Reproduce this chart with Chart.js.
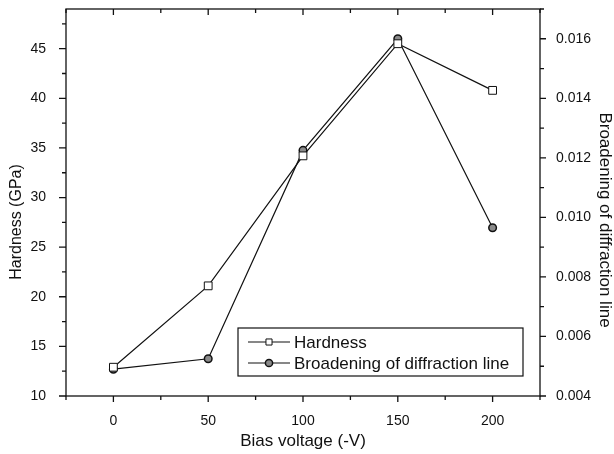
<!DOCTYPE html>
<html>
<head>
<meta charset="utf-8">
<script src="https://cdn.jsdelivr.net/npm/chart.js@4.4.1/dist/chart.umd.min.js"></script>
<style>
    html, body { margin: 0; padding: 0; background: #fff; }
    canvas { display: block; }
</style>
</head>
<body>
<canvas id="bias-chart" width="614" height="454"></canvas>
<script>
(function () {
    'use strict';

    // values
    var biasVoltage = [0, 50, 100, 150, 200];
    var hardness = [12.9, 21.1, 34.2, 45.5, 40.8];
    var broadening = [0.0049, 0.00525, 0.01225, 0.0160, 0.00965];

    var xTicks = [0, 50, 100, 150, 200];
    var hardnessTicks = [10, 15, 20, 25, 30, 35, 40, 45];
    var broadeningTicks = [0.004, 0.006, 0.008, 0.010, 0.012, 0.014, 0.016];

    var FONT = '"Liberation Sans", Arial, sans-serif',
        INK = '#111',

        toPoints = function (xs, ys) {
            return xs.map(function (x, i) {
                return { x: x, y: ys[i] };
            });
        },

        useTicks = function (values) {
            return function (scale) {
                scale.ticks = values.map(function (v) {
                    return { value: v };
                });
            };
        },

        // fixed axis box; drop the label half-height padding chart.js adds
        fixWidth = function (width) {
            return function (scale) {
                scale.width = width;
                scale.paddingTop = 0;
                scale.paddingBottom = 0;
            };
        },

        minorValues = function (ticks, min, max) {
            var half = (ticks[1] - ticks[0]) / 2,
                out = [],
                v;

            for (v = ticks[0] - half * 4; v <= max + 1e-9; v += half) {
                if (v < min - 1e-9) {
                    continue;
                }
                if (ticks.some(function (t) { return Math.abs(t - v) < half / 10; })) {
                    continue;
                }
                out.push(v);
            }
            return out;
        },

        // ticks + frame, like the origin-style box
        framePlugin = {
            id: 'frame',
            afterDatasetsDraw: function (chart) {
                var ctx = chart.ctx,
                    area = chart.chartArea,
                    x = chart.scales.x,
                    y = chart.scales.y,
                    y1 = chart.scales.y1,
                    tick = function (x0, y0, x1, y2) {
                        ctx.moveTo(x0, y0);
                        ctx.lineTo(x1, y2);
                    };

                ctx.save();
                ctx.strokeStyle = INK;
                ctx.lineWidth = 1.3;
                ctx.strokeRect(area.left, area.top, area.right - area.left, area.bottom - area.top);

                ctx.beginPath();
                xTicks.forEach(function (v) {
                    var px = x.getPixelForValue(v);
                    tick(px, area.bottom, px, area.bottom + 6);
                    tick(px, area.top, px, area.top + 6);
                });
                minorValues(xTicks, x.min, x.max).forEach(function (v) {
                    var px = x.getPixelForValue(v);
                    tick(px, area.bottom, px, area.bottom + 4);
                    tick(px, area.top, px, area.top + 4);
                });
                hardnessTicks.forEach(function (v) {
                    var py = y.getPixelForValue(v);
                    tick(area.left, py, area.left - 7, py);
                });
                minorValues(hardnessTicks, y.min, y.max).forEach(function (v) {
                    var py = y.getPixelForValue(v);
                    tick(area.left, py, area.left - 4, py);
                });
                broadeningTicks.forEach(function (v) {
                    var py = y1.getPixelForValue(v);
                    tick(area.right, py, area.right + 6, py);
                });
                minorValues(broadeningTicks, y1.min, y1.max).forEach(function (v) {
                    var py = y1.getPixelForValue(v);
                    tick(area.right, py, area.right + 4, py);
                });
                ctx.stroke();

                // rotated axis titles sit a little below centre in the original
                ctx.fillStyle = INK;
                ctx.textAlign = 'center';
                ctx.textBaseline = 'middle';
                ctx.font = '16px ' + FONT;
                ctx.save();
                ctx.translate(17, 222);
                ctx.rotate(-Math.PI / 2);
                ctx.fillText('Hardness (GPa)', 0, 0);
                ctx.restore();

                ctx.font = '17px ' + FONT;
                ctx.save();
                ctx.translate(605, 220);
                ctx.rotate(Math.PI / 2);
                ctx.fillText('Broadening of diffraction line', 0, 0);
                ctx.restore();

                ctx.restore();
            }
        },

        legendPlugin = {
            id: 'boxLegend',
            afterDraw: function (chart) {
                var ctx = chart.ctx,
                    box = { left: 238, top: 328, right: 523, bottom: 376 },
                    rows = [342, 363],
                    sizes = [4.3, 3.6];

                ctx.save();
                ctx.fillStyle = '#fff';
                ctx.fillRect(box.left, box.top, box.right - box.left, box.bottom - box.top);
                ctx.strokeStyle = INK;
                ctx.lineWidth = 1.2;
                ctx.strokeRect(box.left, box.top, box.right - box.left, box.bottom - box.top);

                chart.data.datasets.forEach(function (dataset, i) {
                    var yRow = rows[i];

                    ctx.strokeStyle = INK;
                    ctx.lineWidth = 1.2;
                    ctx.beginPath();
                    ctx.moveTo(248, yRow);
                    ctx.lineTo(290, yRow);
                    ctx.stroke();

                    ctx.fillStyle = dataset.pointBackgroundColor;
                    ctx.strokeStyle = dataset.pointBorderColor;
                    ctx.lineWidth = dataset.pointBorderWidth;
                    Chart.helpers.drawPoint(ctx, {
                        pointStyle: dataset.pointStyle,
                        radius: sizes[i],
                        rotation: 0,
                        borderWidth: dataset.pointBorderWidth
                    }, 269, yRow);

                    ctx.fillStyle = INK;
                    ctx.font = '17px ' + FONT;
                    ctx.textAlign = 'left';
                    ctx.textBaseline = 'middle';
                    ctx.fillText(dataset.label, 294, yRow + 1);
                });
                ctx.restore();
            }
        },

        tickFont = { family: FONT, size: 14 },

        getConfig = function () {
            return {
                type: 'line',
                data: {
                    datasets: [{
                        label: 'Hardness',
                        data: toPoints(biasVoltage, hardness),
                        yAxisID: 'y',
                        borderColor: INK,
                        borderWidth: 1.2,
                        pointStyle: 'rect',
                        pointRadius: 5.5,
                        pointBackgroundColor: '#fff',
                        pointBorderColor: INK,
                        pointBorderWidth: 1,
                        tension: 0,
                        fill: false
                    }, {
                        label: 'Broadening of diffraction line',
                        data: toPoints(biasVoltage, broadening),
                        yAxisID: 'y1',
                        borderColor: INK,
                        borderWidth: 1.2,
                        pointStyle: 'circle',
                        pointRadius: 3.8,
                        pointBackgroundColor: '#8a8a8a',
                        pointBorderColor: INK,
                        pointBorderWidth: 1.5,
                        tension: 0,
                        fill: false
                    }]
                },
                options: {
                    responsive: false,
                    devicePixelRatio: 1,
                    animation: false,
                    layout: { padding: { top: 9, left: 0, right: 0, bottom: 0 } },
                    plugins: {
                        legend: { display: false },
                        tooltip: { enabled: false }
                    },
                    scales: {
                        x: {
                            type: 'linear',
                            position: 'bottom',
                            min: -25,
                            max: 225,
                            afterBuildTicks: useTicks(xTicks),
                            afterFit: function (scale) {
                                scale.height = 58;
                                scale.paddingLeft = 0;
                                scale.paddingRight = 0;
                            },
                            grid: { display: false },
                            border: { display: false },
                            ticks: { font: tickFont, color: INK, padding: 9, maxRotation: 0 },
                            title: {
                                display: true,
                                text: 'Bias voltage (-V)',
                                color: INK,
                                font: { family: FONT, size: 17 },
                                padding: { top: 0, bottom: 2 }
                            }
                        },
                        y: {
                            type: 'linear',
                            position: 'left',
                            min: 10,
                            max: 49,
                            afterBuildTicks: useTicks(hardnessTicks),
                            afterFit: fixWidth(66),
                            grid: { display: false },
                            border: { display: false },
                            ticks: { font: tickFont, color: INK, padding: 12 }
                        },
                        y1: {
                            type: 'linear',
                            position: 'right',
                            min: 0.004,
                            max: 0.017,
                            afterBuildTicks: useTicks(broadeningTicks),
                            afterFit: fixWidth(74),
                            grid: { display: false },
                            border: { display: false },
                            ticks: {
                                font: tickFont,
                                color: INK,
                                padding: 8,
                                callback: function (value) { return value.toFixed(3); }
                            }
                        }
                    }
                },
                plugins: [framePlugin, legendPlugin]
            };
        };

    new Chart(document.getElementById('bias-chart').getContext('2d'), getConfig());
}());
</script>
</body>
</html>
